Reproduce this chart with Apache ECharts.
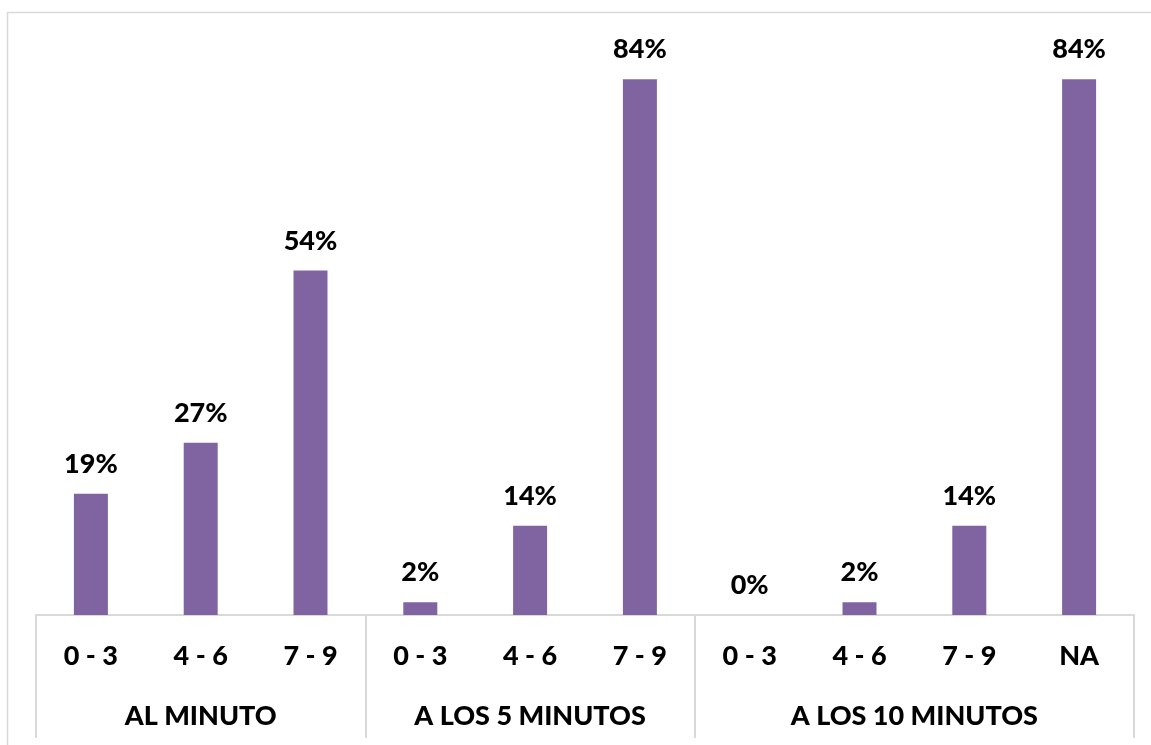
<!DOCTYPE html>
<html>
<head>
<meta charset="utf-8">
<script src="https://cdn.jsdelivr.net/npm/echarts@6/dist/echarts.min.js"></script>
<style>
  html, body { margin: 0; padding: 0; background: #ffffff; }
  #chart { width: 1151px; height: 745px; }
</style>
</head>
<body>
<div id="chart"></div>
<script>
// Score ranges per bar, grouped by time of evaluation
const categories = ['0 - 3', '4 - 6', '7 - 9', '0 - 3', '4 - 6', '7 - 9', '0 - 3', '4 - 6', '7 - 9', 'NA'];
const values = [19, 27, 54, 2, 14, 84, 0, 2, 14, 84];
const groups = ['AL MINUTO', 'A LOS 5 MINUTOS', 'A LOS 10 MINUTOS'];
const groupSizes = [3, 3, 4];

// Group boundaries and centres in category units
const bounds = [0];
groupSizes.forEach(n => bounds.push(bounds[bounds.length - 1] + n));
const centers = groupSizes.map((n, i) => bounds[i] + n / 2);

const FONT = 'Lato';
const WEIGHT = 900;
const chart = echarts.init(document.getElementById('chart'));

chart.setOption({
  animation: false,
  backgroundColor: '#ffffff',
  textStyle: { fontFamily: FONT },
  graphic: [{
    type: 'rect',
    shape: { x: 7.5, y: 12.5, width: 1300, height: 900 },
    style: { fill: 'none', stroke: '#d9d9d9', lineWidth: 1.5 },
    silent: true
  }],
  grid: { left: 36, right: 17, top: 41, bottom: 130 },
  xAxis: [{
    type: 'category',
    data: categories,
    axisLine: { show: true, lineStyle: { color: '#d9d9d9', width: 2 } },
    axisTick: { show: false },
    axisLabel: {
      interval: 0, margin: 28,
      color: '#000', fontWeight: WEIGHT, fontSize: 27, fontFamily: FONT
    }
  }, {
    type: 'value',
    position: 'bottom',
    min: 0,
    max: categories.length,
    splitLine: { show: false },
    axisLine: { show: false },
    axisTick: {
      show: true,
      customValues: bounds,
      length: 123,
      inside: false,
      lineStyle: { color: '#d9d9d9', width: 2 }
    },
    axisLabel: {
      customValues: centers,
      margin: 88,
      color: '#000', fontWeight: WEIGHT, fontSize: 27, fontFamily: FONT,
      formatter: v => {
        const i = centers.indexOf(v);
        return i >= 0 ? groups[i] : '';
      }
    }
  }],
  yAxis: {
    type: 'value',
    min: 0,
    max: 90,
    show: false,
    splitLine: { show: false }
  },
  series: [{
    type: 'bar',
    data: values,
    barWidth: 34,
    itemStyle: { color: '#8064a2' },
    label: {
      show: true,
      position: 'top',
      distance: 16,
      formatter: p => p.value + '%',
      color: '#000', fontWeight: WEIGHT, fontSize: 27, fontFamily: FONT
    }
  }]
});
</script>
</body>
</html>
